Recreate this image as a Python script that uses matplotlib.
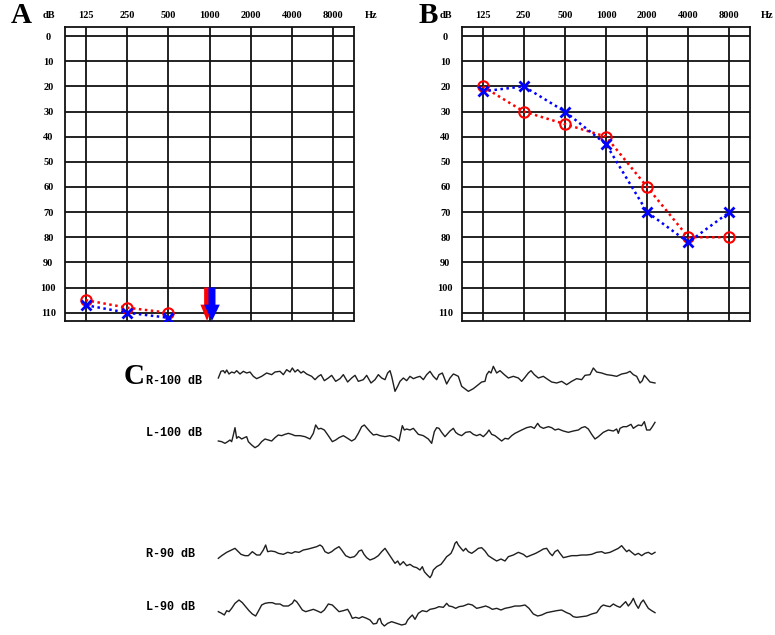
import numpy as np
import matplotlib
matplotlib.use("Agg")
import matplotlib.pyplot as plt
from matplotlib.patches import FancyArrow

# Audiogram data (dB HL), frequencies as octave positions
freqs = ["125", "250", "500", "1000", "2000", "4000", "8000"]
db_ticks = list(range(0, 111, 10))

a_right = [105, 108, 110]          # 125-500 Hz, red O
a_left = [107, 110, 112]           # 125-500 Hz, blue X
a_arrow_freq = 3                   # no response at 1000 Hz
a_arrow_level = 100

b_right = [20, 30, 35, 40, 60, 80, 80]
b_left = [22, 20, 30, 43, 70, 82, 70]

# ABR traces: sample position and deflection (downward positive)
r100_x = [10, 18, 25, 30, 35, 42, 50, 58, 65, 75, 85, 95, 105, 115, 125, 140, 155, 170, 180, 195,
          205, 215, 225, 232, 240, 248, 258, 265, 275, 290, 300, 310, 318, 328, 340, 350, 362, 375, 385, 398,
          410, 420, 430, 445, 455, 468, 480, 490, 500, 510, 518, 525, 530, 540, 548, 555, 565, 575, 585, 595,
          605, 615, 625, 635, 645, 655, 665, 672, 682, 695, 705, 715, 720, 730, 740, 760, 775, 790, 800, 810,
          815, 822, 828, 835, 845, 855, 868, 880, 895, 910, 920, 930, 940, 948, 958, 970, 985, 995, 1010, 1025,
          1040, 1055, 1070, 1085, 1100, 1110, 1125, 1135, 1145, 1160, 1175, 1190, 1205, 1220, 1235, 1245, 1255, 1265, 1275, 1282,
          1288, 1295, 1305, 1320]
r100_y = [60, 40, 38, 45, 36, 48, 42, 45, 38, 48, 40, 45, 42, 55, 62, 55, 45, 50, 42, 40,
          50, 35, 42, 30, 42, 35, 45, 40, 48, 55, 65, 55, 50, 68, 60, 52, 70, 62, 50, 72,
          60, 52, 70, 65, 52, 75, 65, 50, 60, 65, 45, 38, 55, 100, 85, 70, 60, 68, 55, 62,
          58, 55, 65, 50, 40, 55, 65, 50, 45, 78, 60, 48, 50, 55, 85, 100, 92, 80, 72, 70,
          50, 40, 45, 25, 45, 38, 50, 60, 55, 60, 70, 58, 45, 38, 50, 60, 55, 62, 72, 75,
          70, 80, 70, 62, 65, 52, 50, 30, 42, 45, 50, 52, 55, 48, 45, 40, 50, 55, 75, 68,
          52, 60, 72, 75]

l100_x = [10, 20, 30, 38, 45, 50, 55, 60, 65, 70, 75, 80, 88, 95, 100, 110, 120, 130, 140, 150,
          160, 170, 180, 190, 200, 210, 220, 230, 240, 255, 270, 285, 295, 302, 310, 318, 328, 340, 352, 362,
          372, 385, 398, 410, 420, 430, 440, 448, 458, 465, 475, 485, 495, 510, 525, 540, 552, 558, 562, 568,
          575, 585, 595, 610, 625, 640, 650, 658, 665, 672, 680, 690, 705, 715, 722, 730, 740, 752, 765, 775,
          785, 795, 805, 815, 822, 830, 840, 850, 860, 870, 880, 890, 900, 910, 920, 935, 948, 958, 968, 975,
          985, 1000, 1010, 1020, 1030, 1045, 1060, 1075, 1090, 1100, 1110, 1120, 1130, 1140, 1150, 1165, 1180, 1195, 1205, 1210,
          1215, 1225, 1235, 1248, 1255, 1262, 1270, 1280, 1288, 1295, 1305, 1312, 1320]
l100_y = [78, 80, 85, 80, 75, 80, 60, 38, 70, 65, 68, 72, 68, 65, 80, 90, 98, 92, 80, 72,
          75, 78, 68, 60, 62, 58, 55, 58, 62, 62, 65, 72, 55, 30, 42, 40, 45, 62, 80, 75,
          68, 62, 70, 78, 72, 55, 35, 30, 42, 50, 60, 58, 62, 65, 62, 68, 78, 50, 32, 45,
          42, 45, 40, 58, 62, 72, 85, 50, 38, 40, 52, 65, 48, 40, 52, 58, 62, 52, 50, 58,
          62, 58, 65, 55, 45, 58, 62, 70, 78, 70, 72, 62, 55, 50, 45, 38, 35, 40, 25, 35,
          40, 35, 38, 45, 42, 48, 52, 48, 45, 38, 35, 42, 58, 72, 65, 52, 45, 48, 42, 55,
          40, 35, 35, 28, 40, 35, 30, 32, 20, 45, 45, 35, 22]

r90_x = [10, 20, 35, 50, 60, 68, 78, 90, 100, 112, 125, 135, 145, 152, 158, 168, 180, 190, 205, 218,
         230, 240, 252, 265, 280, 295, 305, 315, 322, 330, 340, 350, 360, 372, 380, 392, 405, 418, 425, 432,
         440, 447, 455, 465, 478, 490, 500, 510, 520, 530, 540, 548, 555, 565, 575, 585, 595, 605, 615, 622,
         628, 635, 645, 650, 655, 665, 678, 688, 695, 702, 708, 715, 720, 725, 730, 738, 745, 752, 760, 770,
         780, 790, 800, 810, 820, 832, 845, 858, 870, 880, 895, 910, 925, 935, 950, 962, 975, 985, 995, 1005,
         1012, 1020, 1028, 1035, 1045, 1058, 1070, 1085, 1100, 1115, 1130, 1145, 1160, 1170, 1185, 1200, 1210, 1220, 1228, 1235,
         1242, 1250, 1260, 1270, 1280, 1290, 1300, 1310, 1320]
r90_y = [70, 62, 52, 45, 40, 48, 58, 62, 62, 50, 60, 60, 45, 30, 50, 48, 50, 55, 58, 52,
         55, 50, 52, 45, 42, 38, 35, 30, 35, 50, 55, 50, 42, 35, 45, 62, 68, 65, 58, 48,
         45, 58, 68, 75, 70, 62, 50, 40, 55, 70, 85, 78, 90, 80, 92, 88, 95, 98, 105, 95,
         110, 118, 128, 120, 105, 95, 88, 75, 65, 60, 55, 40, 25, 20, 30, 40, 48, 40, 50, 55,
         48, 40, 38, 48, 62, 70, 78, 72, 78, 65, 60, 52, 58, 66, 60, 55, 48, 42, 40, 55,
         62, 50, 45, 55, 68, 65, 62, 62, 60, 60, 58, 52, 50, 55, 52, 45, 40, 32, 42, 50,
         45, 52, 60, 55, 62, 55, 52, 58, 52]

l90_x = [10, 20, 28, 35, 42, 50, 60, 72, 82, 92, 102, 112, 122, 132, 140, 150, 162, 172, 182, 195,
         205, 220, 232, 238, 245, 252, 262, 272, 282, 295, 305, 318, 328, 340, 352, 362, 372, 385, 398, 405,
         412, 422, 432, 442, 455, 465, 475, 485, 490, 495, 500, 508, 518, 530, 545, 560, 572, 578, 585, 592,
         600, 610, 622, 635, 645, 660, 672, 685, 695, 702, 712, 722, 732, 745, 760, 772, 785, 798, 812, 822,
         832, 845, 858, 870, 885, 900, 915, 930, 942, 955, 968, 980, 995, 1010, 1025, 1040, 1055, 1065, 1075, 1085,
         1100, 1115, 1130, 1145, 1158, 1165, 1175, 1185, 1195, 1205, 1215, 1225, 1232, 1240, 1248, 1255, 1262, 1270, 1278, 1285,
         1292, 1300, 1310, 1320]
l90_y = [65, 70, 75, 62, 65, 55, 40, 30, 38, 50, 62, 72, 78, 60, 45, 40, 38, 38, 42, 42,
         48, 48, 40, 30, 35, 45, 60, 65, 62, 58, 62, 68, 60, 42, 45, 55, 65, 62, 58, 70,
         85, 82, 85, 80, 85, 90, 102, 100, 88, 85, 100, 108, 100, 95, 100, 105, 102, 90, 82, 75,
         88, 70, 62, 65, 58, 55, 50, 52, 40, 48, 50, 55, 50, 48, 42, 45, 55, 52, 48, 52,
         58, 55, 60, 55, 52, 48, 48, 45, 55, 72, 78, 75, 68, 65, 62, 60, 68, 72, 80, 82,
         80, 78, 72, 68, 50, 45, 48, 50, 42, 48, 52, 42, 35, 48, 38, 25, 42, 55, 38, 30,
         42, 55, 62, 68]

W, H = 775, 635
plt.rcParams["font.family"] = ["Liberation Serif", "DejaVu Serif"]
plt.rcParams["font.weight"] = "bold"
fig = plt.figure(figsize=(W / 100, H / 100), dpi=100)


def px_axes(left, top, width, height):
    return fig.add_axes([left / W, 1 - (top + height) / H, width / W, height / H])


def px_text(x, y, s, **kw):
    fig.text(x / W, 1 - y / H, s, **kw)


red = "#ff0000"
blue = "#0000ff"
dots = (0, (1, 1.4))


def audiogram(ax, right, left):
    ax.set_xlim(-0.5, 6.5)
    ax.set_ylim(113.3, -3.6)
    ax.set_xticks(range(len(freqs)), freqs)
    ax.set_yticks(db_ticks)
    ax.xaxis.tick_top()
    ax.tick_params(length=0, labelsize=7.5)
    ax.tick_params(axis="x", pad=5)
    ax.tick_params(axis="y", pad=12)
    for lab in ax.get_yticklabels():
        lab.set_horizontalalignment("center")
    ax.grid(True, color="#111111", lw=1.3)
    ax.set_axisbelow(True)
    for sp in ax.spines.values():
        sp.set_linewidth(1.3)
        sp.set_color("#111111")
    x = np.arange(len(right))
    ax.plot(x, right, color=red, ls=dots, lw=1.8, marker="o", ms=7.5,
            mfc="none", mec=red, mew=1.5, zorder=3)
    ax.plot(np.arange(len(left)), left, color=blue, ls=dots, lw=1.8, marker="x",
            ms=7.5, mec=blue, mew=2.0, zorder=4)


axA = px_axes(65, 27, 289, 294)
audiogram(axA, a_right, a_left)
bottom = axA.get_ylim()[0]
axA.add_patch(FancyArrow(a_arrow_freq - 0.06, a_arrow_level, 0, bottom - a_arrow_level,
                         width=0.14, head_width=0.32, head_length=6.5,
                         length_includes_head=True, color=red, lw=0, zorder=5))
axA.add_patch(FancyArrow(a_arrow_freq + 0.06, a_arrow_level, 0, bottom - a_arrow_level,
                         width=0.17, head_width=0.38, head_length=6.5,
                         length_includes_head=True, color=blue, lw=0, zorder=6))

axB = px_axes(462, 27, 288, 294)
audiogram(axB, b_right, b_left)

# panel letters and unit labels
px_text(21, 23, "A", fontsize=21, ha="center", va="baseline")
px_text(428, 23, "B", fontsize=21, ha="center", va="baseline")
px_text(49, 15, "dB", fontsize=7.5, ha="center", va="center")
px_text(371, 15, "Hz", fontsize=7.5, ha="center", va="center")
px_text(446, 15, "dB", fontsize=7.5, ha="center", va="center")
px_text(767, 15, "Hz", fontsize=7.5, ha="center", va="center")

# panel C: ABR traces
traces = [
    ("R-100 dB", r100_x, r100_y, 358, 42, 384),
    ("L-100 dB", l100_x, l100_y, 415, 42, 436),
    ("R-90 dB", r90_x, r90_y, 535, 48, 557),
    ("L-90 dB", l90_x, l90_y, 590, 40, 610),
]
for label, tx, ty, top, h, base in traces:
    ax = px_axes(215, top, 445, h)
    ax.plot(tx, ty, color="#1f1f1f", lw=1.0)
    ax.set_xlim(0, 1335)
    ax.set_ylim(h * 3, 0)
    ax.axis("off")
    px_text(146, base, label, fontsize=8.5, family="Liberation Mono",
            fontweight="bold", ha="left", va="baseline")

px_text(134, 384, "C", fontsize=21, ha="center", va="baseline")

fig.savefig("out.png", dpi=100)
